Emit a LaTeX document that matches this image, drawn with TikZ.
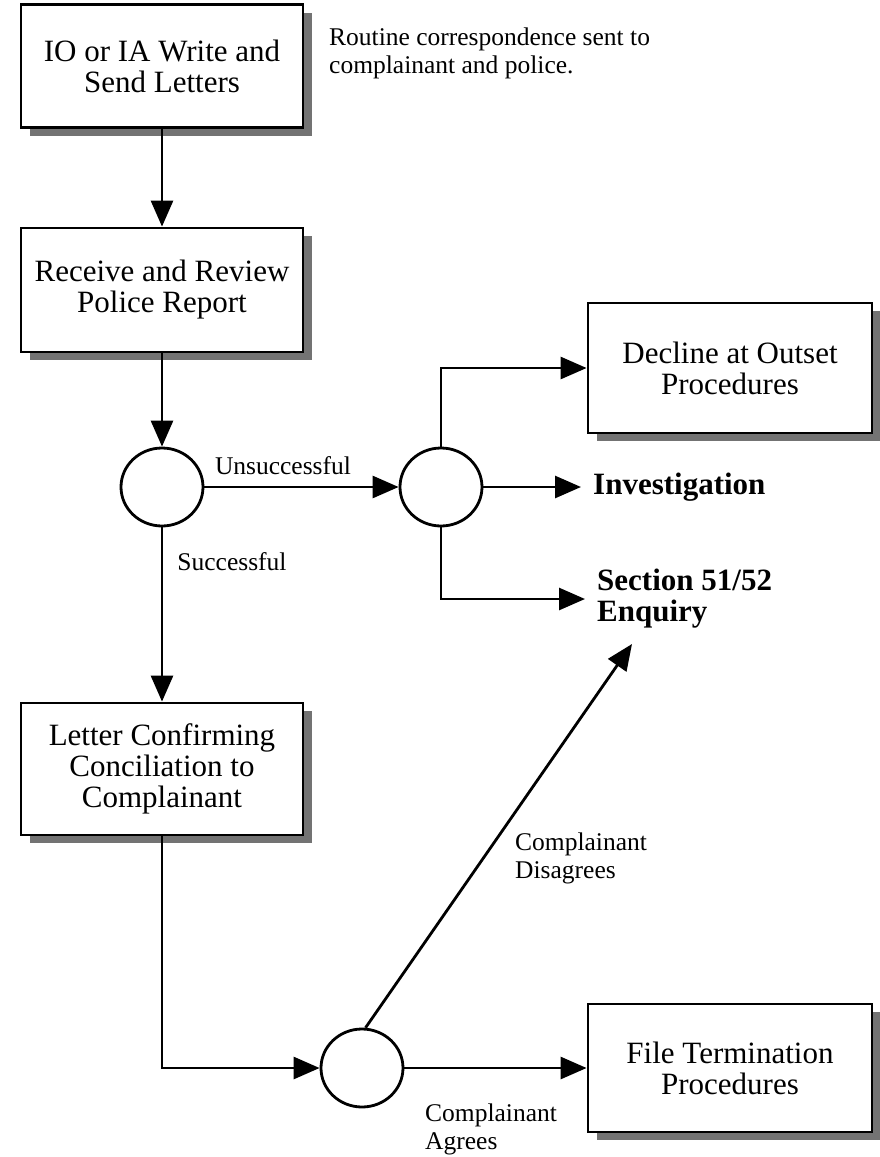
\documentclass[tikz,border=0pt]{standalone}
\usepackage{fontspec}
\setmainfont{Liberation Serif}
\usetikzlibrary{arrows.meta,shapes.geometric,shadows}
\begin{document}
\begin{tikzpicture}[x=1pt,y=-1pt,
  flow/.style={line width=2.8pt, -{Triangle[length=26pt,width=22pt]}},
  procbox/.style={draw, line width=2.8pt, fill=white, align=center, inner sep=0pt,
    font=\fontsize{31}{31}\selectfont,
    drop shadow={shadow xshift=9pt, shadow yshift=-8pt, fill=black!55, opacity=1}},
  junction/.style={draw, ellipse, line width=2.8pt, minimum width=82pt,
    minimum height=78pt, inner sep=0pt},
  note/.style={align=left, inner sep=0pt, font=\fontsize{25.5}{28}\selectfont},
  outcome/.style={align=left, inner ysep=0pt, inner xsep=12pt,
    font=\bfseries\fontsize{31}{31}\selectfont}]
\useasboundingbox (0,0) rectangle (880,1157);

% process boxes
\node[procbox, minimum width=282pt, minimum height=123pt] (write) at (162,66)
  {IO or IA Write and\\Send Letters};
\node[procbox, minimum width=282pt, minimum height=124pt] (review) at (162,290)
  {Receive and Review\\Police Report};
\node[procbox, minimum width=284pt, minimum height=130pt] (decline) at (730,368)
  {Decline at Outset\\Procedures};
\node[procbox, minimum width=282pt, minimum height=132pt] (letter) at (162,769)
  {Letter Confirming\\Conciliation to\\Complainant};
\node[procbox, minimum width=284pt, minimum height=128pt] (file) at (730,1068)
  {File Termination\\Procedures};

% decision points
\node[junction] (j1) at (162,487) {};
\node[junction] (j2) at (441,487) {};
\node[junction] (j3) at (362,1068) {};

% outcomes without boxes
\node[outcome, anchor=west] (invest) at (581,487) {Investigation};
\node[outcome, anchor=west] (section) at (585,599) {Section 51/52\\Enquiry};
\coordinate (enquiry tip) at (632,644);

% side note and branch labels
\node[note, anchor=west] (routine) at (329,53)
  {Routine correspondence sent to\\complainant and police.};
\node[note] (unsucc) at (283,466) {Unsuccessful};
\node[note] (succ) at (232,562) {Successful};
\node[note, anchor=west] (disagree) at (515,858) {Complainant\\Disagrees};
\node[note, anchor=west] (agree) at (425,1129) {Complainant\\Agrees};

% connectors
\draw[flow] (write) -- (review);
\draw[flow] (review) -- (j1);
\draw[flow] (j1) -- (j2);
\draw[flow] (j1) -- (letter);
\draw[flow] (j2) |- (decline);
\draw[flow] (j2) -- (invest);
\draw[flow] (j2) |- (section);
\draw[flow] (letter) |- (j3);
\draw[flow] (j3.85) -- (enquiry tip);
\draw[flow] (j3) -- (file);
\end{tikzpicture}
\end{document}
